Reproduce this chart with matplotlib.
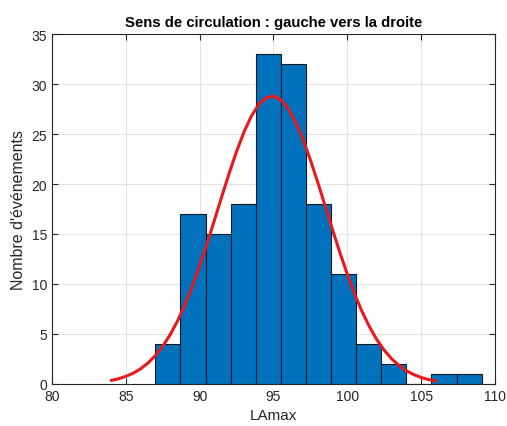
import matplotlib
matplotlib.use("Agg")
import matplotlib.pyplot as plt
import numpy as np

# histogram bins (LAmax) and counts
bin_edges = [87.0, 88.7, 90.4, 92.1, 93.8, 95.5, 97.2, 98.9, 100.6, 102.3, 104.0, 105.7, 107.4, 109.1]
counts = [4, 17, 15, 18, 33, 32, 18, 11, 4, 2, 0, 1, 1]

# fitted normal curve
fit_x = [84, 84.5, 85, 85.5, 86, 86.5, 87, 87.5, 88, 88.5, 89, 89.5, 90, 90.5, 91, 91.5,
         92, 92.5, 93, 93.5, 94, 94.5, 95, 95.5, 96, 96.5, 97, 97.5, 98, 98.5, 99, 99.5,
         100, 100.5, 101, 101.5, 102, 102.5, 103, 103.5, 104, 104.5, 105, 105.5, 106]
fit_y = [0.35, 0.52, 0.76, 1.08, 1.52, 2.10, 2.84, 3.77, 4.92, 6.30, 7.91, 9.76, 11.81, 14.04,
         16.38, 18.75, 21.08, 23.26, 25.19, 26.78, 27.95, 28.63, 28.79, 28.42, 27.54, 26.19,
         24.45, 22.41, 20.16, 17.80, 15.43, 13.13, 10.97, 8.99, 7.24, 5.72, 4.43, 3.38,
         2.52, 1.85, 1.33, 0.94, 0.65, 0.44, 0.30]

plt.rcParams['font.family'] = ['Liberation Sans', 'DejaVu Sans']

fig = plt.figure(figsize=(5.07, 4.27), dpi=100)
ax = fig.add_axes([0.1026, 0.0984, 0.8736, 0.8196])

edges = np.array(bin_edges)
ax.bar(edges[:-1], counts, width=np.diff(edges), align='edge',
       color='#0072BD', edgecolor='#101820', linewidth=0.8, zorder=2)
ax.plot(fit_x, fit_y, color='#E8191C', linewidth=2.2, zorder=3,
        solid_joinstyle='round', solid_capstyle='round')

ax.set_xlim(80, 110)
ax.set_ylim(0, 35)
ax.set_xticks(range(80, 111, 5))
ax.set_yticks(range(0, 36, 5))
ax.grid(True, color='#e2e2e2', linewidth=0.8, zorder=0)
ax.set_axisbelow(True)
ax.tick_params(direction='in', top=True, right=True, labelsize=10, colors='#262626',
               length=4, width=0.8)
for s in ax.spines.values():
    s.set_color('#262626')
    s.set_linewidth(0.8)

ax.set_xlabel('LAmax', fontsize=11, color='#262626')
ax.set_ylabel("Nombre d'événements", fontsize=11.5, color='#262626')
ax.set_title('Sens de circulation : gauche vers la droite', fontsize=10.7, fontweight='bold')

fig.savefig('out.png', dpi=100)
